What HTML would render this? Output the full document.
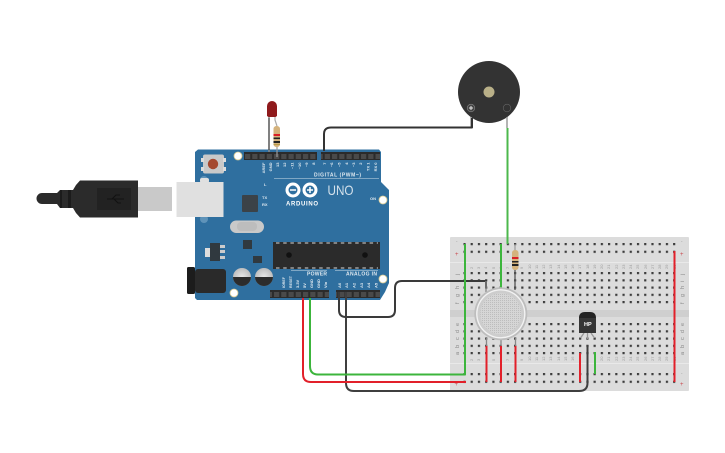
<!DOCTYPE html>
<html><head><meta charset="utf-8"><style>html,body{margin:0;padding:0;background:#fff}svg{display:block}text{font-family:"Liberation Sans",sans-serif}</style></head><body>
<svg width="725" height="453" viewBox="0 0 725 453" xmlns="http://www.w3.org/2000/svg">
<defs>
<pattern id="pin" x="244" y="0" width="7.25" height="20" patternUnits="userSpaceOnUse"><rect x="1" y="0" width="5.2" height="20" fill="#4a4a4a"/></pattern>
<radialGradient id="cap" cx=".5" cy=".5" r=".5"><stop offset="0" stop-color="#e8e8e8"/><stop offset="1" stop-color="#bdbdbd"/></radialGradient>
<pattern id="d1" x="463.400" y="243" width="7.23" height="7.700" patternUnits="userSpaceOnUse"><rect width="2.200" height="2.200" fill="#3c3c3c"/></pattern>
<pattern id="d2" x="463.400" y="272" width="7.23" height="7.250" patternUnits="userSpaceOnUse"><rect width="2.200" height="2.200" fill="#3c3c3c"/></pattern>
<pattern id="d3" x="463.400" y="323" width="7.23" height="7.250" patternUnits="userSpaceOnUse"><rect width="2.200" height="2.200" fill="#3c3c3c"/></pattern>
<pattern id="d4" x="463.400" y="373" width="7.23" height="7.700" patternUnits="userSpaceOnUse"><rect width="2.200" height="2.200" fill="#3c3c3c"/></pattern>
<pattern id="mesh" width="2" height="2" patternUnits="userSpaceOnUse"><rect width="2" height="2" fill="#d6d6d6"/><rect width="1" height="1" fill="#bdbdbd"/></pattern>
</defs>

<!-- USB plug -->
<path d="M42 193H57L60 190H73L76 185L80 180.500H138V217.500H80L76 213L73 208H60L57 204H42A5.500 5.500 0 0 1 42 193Z" fill="#2b2b2b"/>
<path d="M60 190H62V208H60ZM68 190H71V208H68Z" fill="#1b1b1b"/>
<rect x="97" y="188" width="34" height="22" fill="#222"/>
<path d="M107 199H124M112 199L116 195H120M114 199L118 203H121" stroke="#111" fill="none" stroke-width="1"/>
<rect x="138" y="187" width="34" height="24" fill="#c9c9c9"/>

<!-- Arduino board -->
<path d="M198 149.500H379L381 152V182L389 190V283L385 292L380 300H197L195 298V152Z" fill="#2f6f9f"/>
<rect x="203" y="154.500" width="21" height="19" rx="2" fill="#c9c9c9"/>
<circle cx="213" cy="164" r="5.200" fill="#a5492f"/>
<rect x="201" y="158" width="3" height="4" fill="#ddd"/><rect x="201" y="167" width="3" height="4" fill="#ddd"/><rect x="223" y="158" width="3" height="4" fill="#ddd"/><rect x="223" y="167" width="3" height="4" fill="#ddd"/>
<circle cx="204" cy="180" r="4" fill="#5f93b9"/>
<circle cx="204" cy="219" r="4" fill="#5f93b9"/>
<rect x="176.500" y="182" width="47" height="35" fill="#e0e0e0"/>
<rect x="200" y="178" width="9" height="5" rx="2" fill="#e0e0e0"/>
<rect x="242" y="195" width="16" height="17" rx="1" fill="#3b4248"/>
<rect x="230" y="220.500" width="34" height="12.500" rx="6.200" fill="#c9c9c9"/>
<rect x="237" y="222" width="20" height="9" rx="4" fill="#bdbdbd"/>
<rect x="243" y="240" width="9" height="9" fill="#30393f"/>
<rect x="253" y="256" width="9" height="7" fill="#30393f"/>
<rect x="205" y="248" width="6" height="9" fill="#ddd"/>
<rect x="210" y="243" width="10" height="18" fill="#30393f"/>
<rect x="220" y="245" width="5" height="3" fill="#ccc"/><rect x="220" y="250" width="5" height="3" fill="#ccc"/><rect x="220" y="256" width="5" height="3" fill="#ccc"/>
<rect x="273" y="242" width="107" height="27" fill="#2b2b2b"/>
<path d="M276 243H378" stroke="#d8d8d8" stroke-width="1" stroke-dasharray="3.500 3.700"/>
<path d="M276 268H378" stroke="#d8d8d8" stroke-width="1" stroke-dasharray="3.500 3.700"/>
<circle cx="289" cy="255" r="2.800" fill="#111"/><circle cx="365" cy="255" r="2.800" fill="#111"/>
<circle cx="242" cy="277" r="9" fill="url(#cap)"/><path d="M233 277A9 9 0 0 0 251 277Z" fill="#2c2c2c"/>
<circle cx="264" cy="277" r="9" fill="url(#cap)"/><path d="M255 277A9 9 0 0 0 273 277Z" fill="#2c2c2c"/>
<rect x="187" y="267" width="8" height="27" rx="1.500" fill="#1c1c1c"/>
<rect x="195" y="269" width="31" height="24" rx="3" fill="#2a2a2a"/>
<circle cx="238" cy="156" r="4" fill="#fff" stroke="#d9c98f" stroke-width=".8"/>
<circle cx="383" cy="200" r="4" fill="#fff" stroke="#d9c98f" stroke-width=".8"/>
<circle cx="234" cy="293" r="4" fill="#fff" stroke="#d9c98f" stroke-width=".8"/>
<circle cx="383" cy="279" r="4" fill="#fff" stroke="#d9c98f" stroke-width=".8"/>

<!-- headers -->
<rect x="244" y="152" width="73" height="8" fill="#2b2b2b"/><rect x="244" y="154" width="73" height="5" fill="url(#pin)"/>
<rect x="321" y="152" width="59" height="8" fill="#2b2b2b"/><rect x="321" y="154" width="59" height="5" fill="url(#pin)"/>
<rect x="270" y="290" width="59" height="8" fill="#2b2b2b"/><rect x="270" y="292" width="59" height="5" fill="url(#pin)"/>
<rect x="336" y="290" width="44" height="8" fill="#2b2b2b"/><rect x="336" y="292" width="44" height="5" fill="url(#pin)"/>

<!-- board labels -->
<g fill="#dfe9f0" font-size="4" font-weight="bold" text-anchor="end">
<text transform="translate(265,162.500) rotate(-90)">AREF</text>
<text transform="translate(272,162.500) rotate(-90)">GND</text>
<text transform="translate(279,162.500) rotate(-90)">13</text>
<text transform="translate(286,162.500) rotate(-90)">12</text>
<text transform="translate(293.500,162.500) rotate(-90)">~11</text>
<text transform="translate(301,162.500) rotate(-90)">~10</text>
<text transform="translate(308,162.500) rotate(-90)">~9</text>
<text transform="translate(315,162.500) rotate(-90)">8</text>
<text transform="translate(326,162.500) rotate(-90)">7</text>
<text transform="translate(333,162.500) rotate(-90)">~6</text>
<text transform="translate(340.500,162.500) rotate(-90)">~5</text>
<text transform="translate(348,162.500) rotate(-90)">4</text>
<text transform="translate(355,162.500) rotate(-90)">~3</text>
<text transform="translate(362,162.500) rotate(-90)">2</text>
<text transform="translate(369.500,162.500) rotate(-90)">TX 1</text>
<text transform="translate(377,162.500) rotate(-90)">RX 0</text>
</g>
<g fill="#dfe9f0" font-size="4" font-weight="bold">
<text transform="translate(285,288) rotate(-90)" font-size="3.600">IOREF</text>
<text transform="translate(292,288) rotate(-90)" font-size="3.600">RESET</text>
<text transform="translate(299,288) rotate(-90)">3.3V</text>
<text transform="translate(306,288) rotate(-90)">5V</text>
<text transform="translate(313,288) rotate(-90)">GND</text>
<text transform="translate(320,288) rotate(-90)">GND</text>
<text transform="translate(327,288) rotate(-90)">Vin</text>
<text transform="translate(341,288) rotate(-90)">A0</text>
<text transform="translate(348,288) rotate(-90)">A1</text>
<text transform="translate(355.500,288) rotate(-90)">A2</text>
<text transform="translate(363,288) rotate(-90)">A3</text>
<text transform="translate(370,288) rotate(-90)">A4</text>
<text transform="translate(377.500,288) rotate(-90)">A5</text>
<text x="264" y="186">L</text>
<text x="262" y="199">TX</text>
<text x="262" y="206">RX</text>
<text x="370" y="200">ON</text>
<text x="314" y="176.500" font-size="5" textLength="47">DIGITAL (PWM~)</text>
<text x="307" y="275.500" font-size="5" textLength="20">POWER</text>
<text x="346" y="275.500" font-size="5" textLength="31">ANALOG IN</text>
<text x="286" y="205.500" font-size="6" textLength="32" fill="#fff">ARDUINO</text>
</g>
<text x="327.500" y="195" font-size="14" textLength="26" lengthAdjust="spacingAndGlyphs" fill="#d5e2ec">UNO</text>
<path d="M274 178.500H379M291 270.500H327M335 270.500H378" stroke="#cfe0ea" stroke-width=".6" fill="none"/>
<g fill="none" stroke="#fff" stroke-width="3">
<circle cx="293" cy="190" r="6"/><circle cx="310" cy="190" r="6"/>
</g>
<path d="M290 190H296M307 190H313M310 187V193" stroke="#fff" stroke-width="1.500"/>

<!-- breadboard -->
<rect x="450" y="237" width="239" height="154" rx="1" fill="#dcdcdc"/>
<rect x="450" y="262" width="239" height="1" fill="#e9e9e9"/>
<rect x="450" y="310" width="239" height="7" fill="#cfcfcf"/>
<rect x="450" y="363" width="239" height="1" fill="#e9e9e9"/>
<rect x="463.400" y="243" width="213" height="11" fill="url(#d1)"/>
<rect x="463.400" y="272" width="213" height="33" fill="url(#d2)"/>
<rect x="463.400" y="323" width="213" height="33" fill="url(#d3)"/>
<rect x="463.400" y="373" width="213" height="11" fill="url(#d4)"/>
<!-- breadboard labels -->
<g fill="#8a8a8a" font-size="4.500">
<text x="456" y="243">-</text><text x="681" y="243">-</text>
<text x="455" y="256" fill="#c8474c" font-size="6">+</text><text x="680" y="256" fill="#c8474c" font-size="6">+</text>
<text x="456" y="375">-</text><text x="681" y="375">-</text>
<text x="454.500" y="386" fill="#c8474c" font-size="6">+</text><text x="680" y="386" fill="#c8474c" font-size="6">+</text>
<g font-size="5.500">
<text transform="translate(459,275) rotate(-90)">j</text><text transform="translate(459,282) rotate(-90)">i</text><text transform="translate(459,289) rotate(-90)">h</text><text transform="translate(459,297) rotate(-90)">g</text><text transform="translate(459,304) rotate(-90)">f</text>
<text transform="translate(459,326) rotate(-90)">e</text><text transform="translate(459,333) rotate(-90)">d</text><text transform="translate(459,340) rotate(-90)">c</text><text transform="translate(459,348) rotate(-90)">b</text><text transform="translate(459,355) rotate(-90)">a</text>
<text transform="translate(684,275) rotate(-90)">j</text><text transform="translate(684,282) rotate(-90)">i</text><text transform="translate(684,289) rotate(-90)">h</text><text transform="translate(684,297) rotate(-90)">g</text><text transform="translate(684,304) rotate(-90)">f</text>
<text transform="translate(684,326) rotate(-90)">e</text><text transform="translate(684,333) rotate(-90)">d</text><text transform="translate(684,340) rotate(-90)">c</text><text transform="translate(684,348) rotate(-90)">b</text><text transform="translate(684,355) rotate(-90)">a</text>
</g>
<g font-size="4" fill="#9a9a9a">
<text transform="translate(473,269) rotate(-90)">2</text><text transform="translate(480,269) rotate(-90)">3</text><text transform="translate(487,269) rotate(-90)">4</text><text transform="translate(495,269) rotate(-90)">5</text><text transform="translate(502,269) rotate(-90)">6</text><text transform="translate(509,269) rotate(-90)">7</text><text transform="translate(523,269) rotate(-90)">9</text><text transform="translate(531,269) rotate(-90)">10</text><text transform="translate(538,269) rotate(-90)">11</text><text transform="translate(545,269) rotate(-90)">12</text><text transform="translate(552,269) rotate(-90)">13</text><text transform="translate(560,269) rotate(-90)">14</text><text transform="translate(567,269) rotate(-90)">15</text><text transform="translate(574,269) rotate(-90)">16</text><text transform="translate(581,269) rotate(-90)">17</text><text transform="translate(589,269) rotate(-90)">18</text><text transform="translate(596,269) rotate(-90)">19</text><text transform="translate(603,269) rotate(-90)">20</text><text transform="translate(610,269) rotate(-90)">21</text><text transform="translate(618,269) rotate(-90)">22</text><text transform="translate(625,269) rotate(-90)">23</text><text transform="translate(632,269) rotate(-90)">24</text><text transform="translate(639,269) rotate(-90)">25</text><text transform="translate(647,269) rotate(-90)">26</text><text transform="translate(654,269) rotate(-90)">27</text><text transform="translate(661,269) rotate(-90)">28</text><text transform="translate(668,269) rotate(-90)">29</text><text transform="translate(676,269) rotate(-90)">30</text>
<text transform="translate(473,361) rotate(-90)">2</text><text transform="translate(480,361) rotate(-90)">3</text><text transform="translate(495,361) rotate(-90)">5</text><text transform="translate(509,361) rotate(-90)">7</text><text transform="translate(523,361) rotate(-90)">9</text><text transform="translate(531,361) rotate(-90)">10</text><text transform="translate(538,361) rotate(-90)">11</text><text transform="translate(545,361) rotate(-90)">12</text><text transform="translate(552,361) rotate(-90)">13</text><text transform="translate(560,361) rotate(-90)">14</text><text transform="translate(567,361) rotate(-90)">15</text><text transform="translate(574,361) rotate(-90)">16</text><text transform="translate(603,361) rotate(-90)">20</text><text transform="translate(610,361) rotate(-90)">21</text><text transform="translate(618,361) rotate(-90)">22</text><text transform="translate(625,361) rotate(-90)">23</text><text transform="translate(632,361) rotate(-90)">24</text><text transform="translate(639,361) rotate(-90)">25</text><text transform="translate(647,361) rotate(-90)">26</text><text transform="translate(654,361) rotate(-90)">27</text><text transform="translate(661,361) rotate(-90)">28</text><text transform="translate(668,361) rotate(-90)">29</text><text transform="translate(676,361) rotate(-90)">30</text>
</g>
</g>

<!-- LED -->
<path d="M269 114V152" stroke="#8a8a8a" stroke-width="1.500" fill="none"/>
<path d="M269 118V150" stroke="#3a3a3a" stroke-width="1" fill="none"/>
<path d="M275 114V120L277 126" stroke="#aaa" stroke-width="1.200" fill="none"/>
<path d="M277 146V157" stroke="#999" stroke-width="1.200" fill="none"/>
<path d="M267 106A5 5 0 0 1 277 106V116L275.500 117H268.500L267 116Z" fill="#8f1a1c"/>
<!-- LED resistor -->
<rect x="273.500" y="126" width="6.500" height="21" rx="2.800" fill="#d4b27c"/>
<rect x="273.500" y="134" width="6.500" height="2" fill="#d81f26"/>
<rect x="273.500" y="137.500" width="6.500" height="1.600" fill="#222"/>
<rect x="273.500" y="141" width="6.500" height="2" fill="#222"/>
<rect x="273.500" y="144" width="6.500" height="1" fill="#b89b4a"/>

<!-- Buzzer -->
<circle cx="489" cy="92" r="31" fill="#333"/>
<circle cx="489" cy="92" r="5.500" fill="#b9b088"/>
<circle cx="471" cy="108" r="3.800" fill="#444" stroke="#888" stroke-width=".6"/>
<path d="M469 108H473M471 106V110" stroke="#e8e8e8" stroke-width="1"/>
<circle cx="507" cy="108" r="3.800" fill="none" stroke="#666" stroke-width=".6"/>
<path d="M471 117V128" stroke="#9a9a9a" stroke-width="1.500"/>
<path d="M507 117V128" stroke="#9a9a9a" stroke-width="1.500"/>

<!-- breadboard resistor -->
<path d="M515 244V252" stroke="#999" stroke-width="1.200"/>
<path d="M515 268V290" stroke="#555" stroke-width="1.300"/>
<rect x="512" y="250" width="6.500" height="20" rx="2.800" fill="#d4b27c"/>
<rect x="512" y="257" width="6.500" height="2" fill="#d81f26"/>
<rect x="512" y="261" width="6.500" height="1.500" fill="#222"/>
<rect x="512" y="264" width="6.500" height="2" fill="#222"/>

<!-- wires -->
<g fill="none" stroke-width="2" stroke-linejoin="round">
<path d="M324 151V134Q324 127.500 331 127.500H472V118" stroke="#333"/>
<path d="M507.500 128V244" stroke="#4cb84c"/>
<path d="M346 292V383Q346 391 354 391H579Q587.500 391 587.500 383V345" stroke="#3f3f3f"/>
<path d="M339 292V310Q339 317 346 317H388Q395 317 395 310V288Q395 281 402 281H486V288" stroke="#3a3a3a"/>
<path d="M310 298V366Q310 374.500 318 374.500H465V244" stroke="#3cb53c"/>
<path d="M303 298V374Q303 382 311 382H466" stroke="#e2202a"/>
<path d="M501 244V288" stroke="#3cb53c"/>
<path d="M486.500 346V382M501 346V382M515.500 346V382M580 353V382" stroke="#e2202a"/>
<path d="M674.500 251V382" stroke="#e2202a"/>
<path d="M595 352V374" stroke="#3cb53c"/>
</g>

<!-- gas sensor -->
<path d="M486.500 337V346M501 337V346M515.500 337V346" stroke="#888" stroke-width="1.300"/>
<path d="M486 281V292" stroke="#888" stroke-width="1.300"/>
<circle cx="500.800" cy="313.800" r="26.500" fill="#bdbdbd"/>
<circle cx="500.800" cy="313.800" r="24.700" fill="#f2f2f2"/>
<circle cx="500.800" cy="313.800" r="23.300" fill="#cdcdcd"/>
<circle cx="500.800" cy="313.800" r="20.500" fill="url(#mesh)"/>

<!-- transistor -->
<path d="M584 333L580.500 338M587.500 333V339M591 333L594.500 338" stroke="#999" stroke-width="1.300" fill="none"/>
<path d="M579 318Q579 312 585 312H590Q596 312 596 318V333H579Z" fill="#222"/>
<rect x="579" y="318" width="17" height="15" fill="#353535"/>
<text x="584" y="326" font-size="5.500" font-weight="bold" fill="#fff">HP</text>
</svg>
</body></html>
